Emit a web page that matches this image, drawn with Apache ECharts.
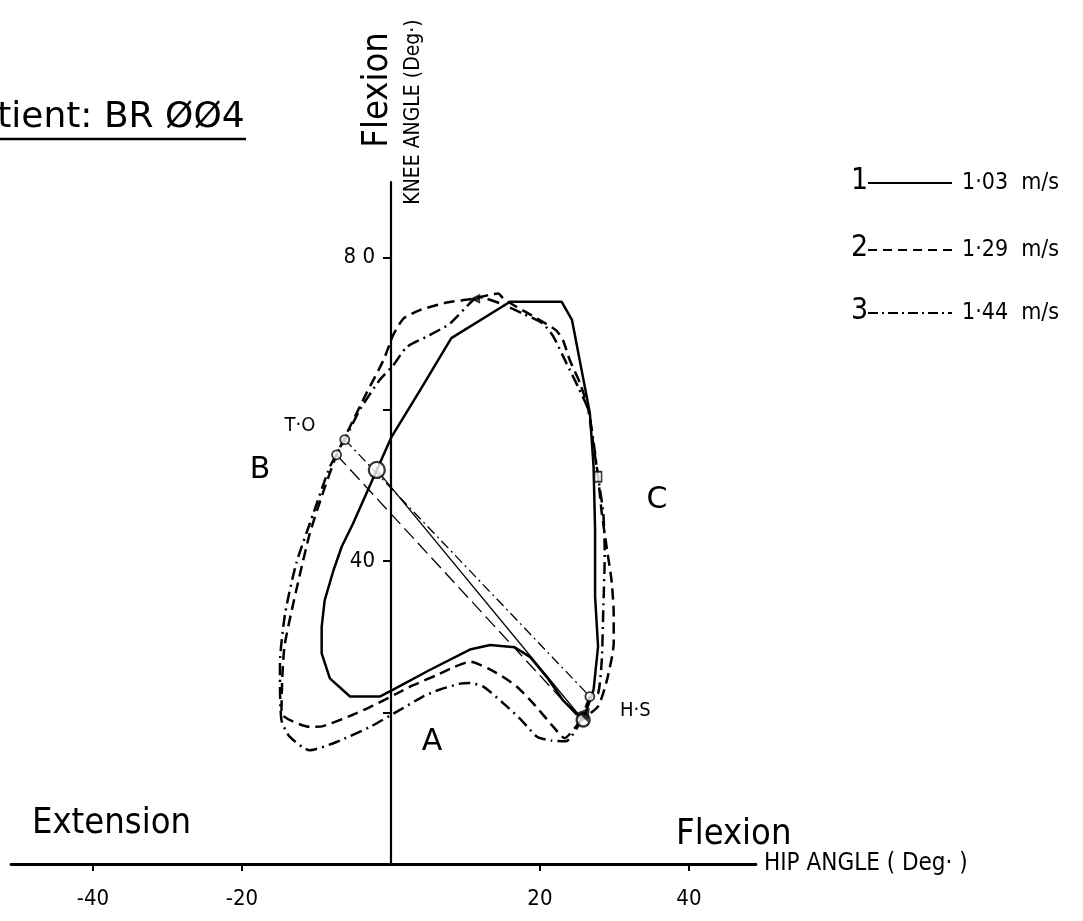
<!DOCTYPE html>
<html><head><meta charset="utf-8">
<script src="https://cdn.jsdelivr.net/npm/echarts@6/dist/echarts.min.js"></script>
<style>html,body{margin:0;padding:0;background:#fff;}#c{width:1083px;height:921px;}</style>
</head><body><div id="c"></div>
<script>
// ---- data (hip angle, knee angle in degrees) ----
const hipTicks = [-40, -20, 20, 40];
const kneeTicks = [20, 40, 60, 80];
const kneeLabels = [40, 80];
const trialNames = ['1', '2', '3'];
const speeds = ['1·03  m/s', '1·29  m/s', '1·44  m/s'];

const trial1 = [[25.8,19.0],[23.1,21.6],[20.9,24.7],[18.7,27.3],[16.6,28.6],[13.3,28.9],[10.6,28.3],[5.2,25.6],[0.3,23.0],[-1.5,22.1],[-5.5,22.1],[-8.2,24.5],[-9.3,27.8],[-9.3,31.3],[-8.9,34.8],[-7.7,38.8],[-6.6,41.9],[-5.1,44.9],[-3.3,48.9],[-1.9,52.0],[0.1,56.4],[3.9,62.5],[8.1,69.4],[16.0,74.2],[22.9,74.2],[24.3,71.8],[26.7,59.5],[27.2,52.4],[27.4,44.1],[27.4,35.3],[27.8,28.7],[27.2,23.0],[25.8,19.0]];

const trial2 = [[25.5,19.0],[23.3,16.6],[21.8,18.1],[19.1,21.2],[16.9,23.4],[14.2,25.2],[10.6,26.7],[8.5,26.0],[6.1,24.9],[3.0,23.6],[0.8,22.5],[-2.4,20.9],[-5.1,19.7],[-9.1,18.2],[-10.9,18.1],[-14.7,19.9],[-14.6,24.3],[-14.3,28.7],[-13.4,33.1],[-12.2,38.3],[-10.9,43.6],[-9.3,48.5],[-7.3,54.0],[-5.5,57.7],[-3.3,62.1],[-1.0,66.5],[0.3,69.8],[1.7,72.0],[3.9,73.1],[7.5,74.1],[11.0,74.6],[14.4,75.3],[15.1,74.6],[16.9,73.5],[19.6,72.0],[22.2,70.4],[23.1,69.1],[24.0,66.5],[25.4,63.4],[26.5,59.9],[27.2,55.1],[27.8,51.1],[28.3,46.3],[29.0,41.5],[29.6,37.5],[29.9,33.1],[29.9,29.1],[29.0,24.3],[27.8,20.8],[25.5,19.0]];

const trial3 = [[26.7,22.1],[25.0,18.0],[23.5,16.2],[21.5,16.3],[19.6,16.8],[17.5,19.0],[15.1,21.2],[12.4,23.4],[10.5,23.9],[9.3,23.8],[6.5,23.0],[4.3,22.1],[0.8,20.1],[-2.8,18.1],[-7.3,16.1],[-10.9,15.0],[-13.6,16.8],[-14.7,19.0],[-14.9,24.7],[-14.9,26.5],[-14.2,33.1],[-12.7,39.7],[-10.4,46.3],[-8.2,52.4],[-6.2,56.0],[-4.2,59.9],[-1.5,63.9],[0.3,65.8],[2.1,68.2],[4.8,69.6],[7.9,71.3],[11.0,74.4],[11.9,74.8],[14.6,74.0],[17.8,72.6],[20.4,71.3],[21.8,69.6],[23.6,66.0],[25.1,63.0],[26.5,59.9],[27.4,54.2],[27.8,51.1],[28.5,46.3],[28.7,41.0],[28.5,33.5],[28.3,26.9],[27.8,22.5],[26.7,22.1]];

// toe-off and heel-strike points of each trial
const toPoints = [[-1.9,52.0],[-7.3,54.0],[-6.2,56.0]];
const hsPoints = [[25.8,19.0],[25.5,19.0],[26.7,22.1]];
const squareMark = [[27.8,51.1]];
const arrowMark = [[11.3,74.6]];

// ---- styles ----
const INK = '#000';
const dashes = ['solid', [11, 6], [12, 5, 2, 5]];
const thinDashes = ['solid', [14, 6], [10, 4, 2, 4]];
const trials = [trial1, trial2, trial3];

const series = [];
trials.forEach((t, i) => {
  series.push({
    type: 'line', data: t, showSymbol: false, smooth: i === 0 ? false : 0.2,
    lineStyle: { color: INK, width: 2.5, type: dashes[i] }, silent: true, z: 3
  });
  series.push({
    type: 'line', data: [toPoints[i], hsPoints[i]], showSymbol: false,
    lineStyle: { color: INK, width: 1.3, type: thinDashes[i] }, silent: true, z: 2
  });
});
series.push({ type: 'scatter', data: [toPoints[0]], symbol: 'circle', symbolSize: 16,
  itemStyle: { color: '#fff', borderColor: INK, borderWidth: 2.2 }, z: 5 });
series.push({ type: 'scatter', data: [toPoints[1], toPoints[2], hsPoints[2]], symbol: 'circle', symbolSize: 9,
  itemStyle: { color: '#fff', borderColor: INK, borderWidth: 1.8 }, z: 5 });
series.push({ type: 'scatter', data: [hsPoints[0]], symbol: 'circle', symbolSize: 13,
  itemStyle: { color: '#fff', borderColor: INK, borderWidth: 2.4 }, z: 5 });
series.push({ type: 'scatter', data: [hsPoints[1]], symbol: 'triangle', symbolSize: 13, symbolRotate: 200,
  symbolOffset: [5, -4], itemStyle: { color: INK }, z: 6 });
series.push({ type: 'scatter', data: squareMark, symbol: 'rect', symbolSize: [7, 10],
  itemStyle: { color: '#fff', borderColor: INK, borderWidth: 1.8 }, z: 5 });
series.push({ type: 'scatter', data: arrowMark, symbol: 'triangle', symbolSize: 10, symbolRotate: 90,
  itemStyle: { color: INK }, z: 5 });

const COND = '"DejaVu Sans Condensed", "DejaVu Sans", sans-serif';
const SANS = '"DejaVu Sans", sans-serif';

// text placed by its vertical middle
function txt(text, x, y, size, opts) {
  opts = opts || {};
  return { type: 'text', x: x, y: y, rotation: opts.rot || 0, z: 10,
    style: { text: text, font: 'normal ' + size + 'px ' + (opts.family || COND),
      fill: INK, textAlign: opts.align || 'left', textVerticalAlign: 'middle' } };
}

const graphic = [
  txt('Patient: BR ØØ4', -45, 118, 36, { family: SANS }),
  { type: 'line', shape: { x1: 0, y1: 139, x2: 246, y2: 139 }, style: { stroke: INK, lineWidth: 2.5 }, z: 10 },
  txt('Flexion', 378, 90, 36, { rot: Math.PI / 2, align: 'center' }),
  txt('KNEE ANGLE (Deg·)', 414, 112, 21, { rot: Math.PI / 2, align: 'center' }),
  txt('Extension', 32, 824, 36),
  txt('Flexion', 676, 835, 36),
  txt('B', 260, 470, 30, { align: 'center', family: SANS }),
  txt('C', 657, 500, 30, { align: 'center', family: SANS }),
  txt('A', 432, 742, 30, { align: 'center', family: SANS }),
  txt('T·O', 300, 426, 20, { align: 'center' }),
  txt('H·S', 620, 711, 20)
];
const legendY = [183, 250, 313];
legendY.forEach((y, i) => {
  graphic.push(txt(trialNames[i], 851, y - 2, 30));
  graphic.push({ type: 'line', shape: { x1: 868, y1: y, x2: 952, y2: y },
    style: { stroke: INK, lineWidth: 2, lineDash: i === 0 ? null : (i === 1 ? [9, 6] : [10, 4, 2, 4]) }, z: 10 });
  graphic.push(txt(speeds[i], 962, y, 23));
});

const GRID_LEFT = 11;
const chart = echarts.init(document.getElementById('c'), null, { renderer: 'canvas' });
chart.setOption({
  animation: false,
  backgroundColor: '#fff',
  grid: { left: GRID_LEFT, right: 327, top: 182, bottom: 57, containLabel: false, outerBoundsMode: 'none' },
  xAxis: {
    type: 'value', min: -51, max: 49,
    name: 'HIP ANGLE ( Deg· )', nameLocation: 'end', nameGap: 8,
    nameTextStyle: { color: INK, fontSize: 24, fontFamily: COND, verticalAlign: 'middle' },
    axisLine: { onZero: false, lineStyle: { color: INK, width: 2.8 } },
    axisTick: { show: true, customValues: hipTicks, length: 7, lineStyle: { color: INK, width: 2 } },
    axisLabel: { customValues: hipTicks, color: INK, fontSize: 22, fontFamily: COND, margin: 24,
      formatter: v => (v < 0 ? '-' + Math.abs(v) : String(v)) },
    splitLine: { show: false }
  },
  yAxis: {
    type: 'value', min: 0, max: 90, position: 'left', offset: -(391 - GRID_LEFT),
    axisLine: { onZero: false, lineStyle: { color: INK, width: 2.2 } },
    axisTick: { show: true, customValues: kneeTicks, length: 8, lineStyle: { color: INK, width: 2 } },
    axisLabel: { customValues: kneeLabels, color: INK, fontSize: 22, fontFamily: COND, margin: 16,
      formatter: v => (v === 80 ? '8 0' : String(v)) },
    splitLine: { show: false }
  },
  series: series,
  graphic: graphic
});
</script>
</body></html>
